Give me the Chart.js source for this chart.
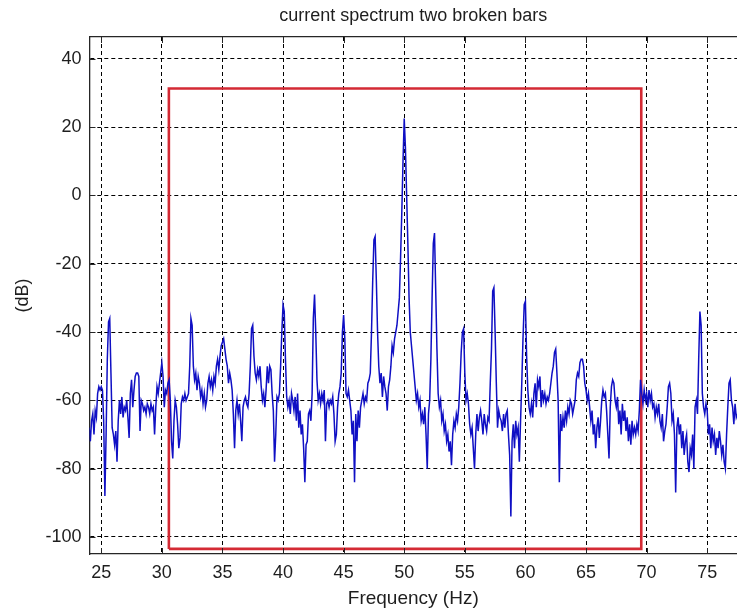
<!DOCTYPE html>
<html><head><meta charset="utf-8">
<script src="https://cdn.jsdelivr.net/npm/chart.js@4.4.1/dist/chart.umd.min.js"></script>
<style>html,body{margin:0;padding:0;background:#fff;overflow:hidden}#wrap{width:737px;height:613px;position:relative}</style>
</head><body><div id="wrap"><canvas id="c" width="737" height="613"></canvas></div>
<script>
const chartTitle = 'current spectrum two broken bars';
const xAxisTitle = 'Frequency (Hz)';
const yAxisTitle = '(dB)';
const xTicks = [25, 30, 35, 40, 45, 50, 55, 60, 65, 70, 75];
const yTicks = [-100, -80, -60, -40, -20, 0, 20, 40];

const freqHz = [
24,24.1,24.2,24.3,24.4,24.5,24.6,24.7,24.8,24.9,
25,25.1,25.2,25.3,25.4,25.5,25.6,25.7,25.8,25.9,
26,26.1,26.2,26.3,26.4,26.5,26.6,26.7,26.8,26.9,
27,27.1,27.2,27.3,27.4,27.5,27.6,27.7,27.8,27.9,
28,28.1,28.2,28.3,28.4,28.5,28.6,28.7,28.8,28.9,
29,29.1,29.2,29.3,29.4,29.5,29.6,29.7,29.8,29.9,
30,30.1,30.2,30.3,30.4,30.5,30.6,30.7,30.8,30.9,
31,31.1,31.2,31.3,31.4,31.5,31.6,31.7,31.8,31.9,
32,32.1,32.2,32.3,32.4,32.5,32.6,32.7,32.8,32.9,
33,33.1,33.2,33.3,33.4,33.5,33.6,33.7,33.8,33.9,
34,34.1,34.2,34.3,34.4,34.5,34.6,34.7,34.8,34.9,
35,35.1,35.2,35.3,35.4,35.5,35.6,35.7,35.8,35.9,
36,36.1,36.2,36.3,36.4,36.5,36.6,36.7,36.8,36.9,
37,37.1,37.2,37.3,37.4,37.5,37.6,37.7,37.8,37.9,
38,38.1,38.2,38.3,38.4,38.5,38.6,38.7,38.8,38.9,
39,39.1,39.2,39.3,39.4,39.5,39.6,39.7,39.8,39.9,
40,40.1,40.2,40.3,40.4,40.5,40.6,40.7,40.8,40.9,
41,41.1,41.2,41.3,41.4,41.5,41.6,41.7,41.8,41.9,
42,42.1,42.2,42.3,42.4,42.5,42.6,42.7,42.8,42.9,
43,43.1,43.2,43.3,43.4,43.5,43.6,43.7,43.8,43.9,
44,44.1,44.2,44.3,44.4,44.5,44.6,44.7,44.8,44.9,
45,45.1,45.2,45.3,45.4,45.5,45.6,45.7,45.8,45.9,
46,46.1,46.2,46.3,46.4,46.5,46.6,46.7,46.8,46.9,
47,47.1,47.2,47.3,47.4,47.5,47.6,47.7,47.8,47.9,
48,48.1,48.2,48.3,48.4,48.5,48.6,48.7,48.8,48.9,
49,49.1,49.2,49.3,49.4,49.5,49.6,49.7,49.8,49.9,
50,50.1,50.2,50.3,50.4,50.5,50.6,50.7,50.8,50.9,
51,51.1,51.2,51.3,51.4,51.5,51.6,51.7,51.8,51.9,
52,52.1,52.2,52.3,52.4,52.5,52.6,52.7,52.8,52.9,
53,53.1,53.2,53.3,53.4,53.5,53.6,53.7,53.8,53.9,
54,54.1,54.2,54.3,54.4,54.5,54.6,54.7,54.8,54.9,
55,55.1,55.2,55.3,55.4,55.5,55.6,55.7,55.8,55.9,
56,56.1,56.2,56.3,56.4,56.5,56.6,56.7,56.8,56.9,
57,57.1,57.2,57.3,57.4,57.5,57.6,57.7,57.8,57.9,
58,58.1,58.2,58.3,58.4,58.5,58.6,58.7,58.8,58.9,
59,59.1,59.2,59.3,59.4,59.5,59.6,59.7,59.8,59.9,
60,60.1,60.2,60.3,60.4,60.5,60.6,60.7,60.8,60.9,
61,61.1,61.2,61.3,61.4,61.5,61.6,61.7,61.8,61.9,
62,62.1,62.2,62.3,62.4,62.5,62.6,62.7,62.8,62.9,
63,63.1,63.2,63.3,63.4,63.5,63.6,63.7,63.8,63.9,
64,64.1,64.2,64.3,64.4,64.5,64.6,64.7,64.8,64.9,
65,65.1,65.2,65.3,65.4,65.5,65.6,65.7,65.8,65.9,
66,66.1,66.2,66.3,66.4,66.5,66.6,66.7,66.8,66.9,
67,67.1,67.2,67.3,67.4,67.5,67.6,67.7,67.8,67.9,
68,68.1,68.2,68.3,68.4,68.5,68.6,68.7,68.8,68.9,
69,69.1,69.2,69.3,69.4,69.5,69.6,69.7,69.8,69.9,
70,70.1,70.2,70.3,70.4,70.5,70.6,70.7,70.8,70.9,
71,71.1,71.2,71.3,71.4,71.5,71.6,71.7,71.8,71.9,
72,72.1,72.2,72.3,72.4,72.5,72.6,72.7,72.8,72.9,
73,73.1,73.2,73.3,73.4,73.5,73.6,73.7,73.8,73.9,
74,74.1,74.2,74.3,74.4,74.5,74.6,74.7,74.8,74.9,
75,75.1,75.2,75.3,75.4,75.5,75.6,75.7,75.8,75.9,
76,76.1,76.2,76.3,76.4,76.5,76.6,76.7,76.8,76.9,
77,77.1,77.2,77.3,77.4,77.5
];

const levelDb = [
-68,-72,-66,-64,-70,-63,-65,-58,-56,-57,
-56,-57,-66,-88,-70,-48,-37,-36,-52,-68,
-70,-73,-69,-78,-66,-60,-64,-59,-65,-62,
-63,-60,-65,-71,-58,-54,-62,-57,-53,-52,
-52,-53,-69,-60,-61,-63,-62,-64,-61,-62,
-64,-61,-63,-62,-70,-62,-56,-58,-55,-52,
-49,-53,-62,-57,-58,-55,-54,-60,-72,-77,
-66,-60,-62,-67,-74,-71,-61,-59,-60,-58,
-60,-59,-58,-50,-36,-38,-50,-54,-52,-57,
-53,-55,-59,-57,-61,-58,-62,-60,-55,-53,
-56,-54,-57,-53,-55,-50,-48,-51,-47,-44,
-43,-42,-45,-48,-50,-55,-52,-54,-57,-64,
-74,-63,-60,-64,-61,-66,-72,-62,-60,-59,
-61,-62,-58,-50,-39,-38,-47,-52,-54,-51,
-53,-50,-56,-60,-58,-62,-57,-50,-55,-50,
-51,-58,-63,-78,-70,-59,-60,-58,-50,-40,
-32,-34,-48,-59,-62,-60,-64,-58,-60,-63,
-59,-66,-58,-68,-63,-70,-67,-74,-84,-73,
-72,-64,-63,-66,-58,-36,-29,-40,-54,-60,
-58,-61,-58,-60,-57,-72,-61,-60,-62,-60,
-61,-59,-64,-72,-70,-62,-58,-56,-52,-40,
-35,-42,-58,-59,-57,-60,-63,-70,-66,-84,
-64,-72,-63,-68,-62,-60,-58,-61,-59,-60,
-55,-54,-52,-40,-25,-13,-12,-25,-40,-50,
-55,-52,-59,-53,-56,-58,-63,-56,-54,-50,
-44,-46,-42,-40,-38,-34,-30,-18,-5,10,
22.5,14,0,-14,-30,-40,-44,-48,-52,-56,
-60,-58,-62,-60,-66,-64,-67,-62,-70,-80,
-64,-60,-48,-30,-14,-11,-28,-45,-58,-62,
-60,-66,-64,-69,-67,-72,-70,-75,-72,-79,
-70,-66,-68,-64,-66,-62,-55,-46,-40,-39,
-52,-60,-58,-61,-67,-70,-68,-74,-80,-70,
-64,-69,-65,-63,-66,-70,-64,-67,-69,-65,
-66,-55,-45,-28,-27,-40,-55,-68,-63,-65,
-66,-69,-64,-68,-64,-63,-70,-76,-94,-72,
-67,-74,-66,-70,-68,-78,-66,-55,-42,-32,
-31,-47,-57,-62,-64,-61,-65,-58,-55,-62,
-54,-56,-53,-62,-57,-60,-58,-61,-59,-60,
-58,-55,-52,-50,-46,-45,-52,-60,-84,-64,
-69,-65,-68,-63,-66,-62,-64,-60,-61,-64,
-62,-60,-54,-52,-53,-49,-48,-48,-50,-55,
-57,-60,-58,-62,-66,-63,-70,-67,-74,-68,
-65,-71,-66,-60,-57,-59,-58,-63,-70,-77,
-62,-56,-54,-55,-60,-62,-59,-67,-63,-70,
-61,-66,-63,-69,-65,-72,-67,-73,-66,-70,
-68,-70,-67,-69,-63,-54,-58,-61,-57,-60,
-58,-62,-57,-60,-58,-62,-61,-65,-62,-64,
-61,-66,-68,-64,-72,-69,-67,-62,-56,-55,
-58,-66,-64,-70,-87,-68,-65,-70,-67,-74,
-69,-76,-72,-70,-78,-81,-74,-76,-70,-80,
-62,-60,-64,-48,-34,-38,-58,-62,-64,-61,
-63,-70,-67,-74,-68,-72,-70,-76,-71,-74,
-69,-72,-76,-73,-78,-80,-70,-62,-55,-54,
-60,-62,-67,-61,-65,-64
];

const boxFreqHz = [30.58, 30.58, 69.56, 69.56, 30.58];
const boxLevelDb = [-103.5, 31.3, 31.3, -103.5, -103.5];

const FONT = "'Liberation Sans', Arial, Helvetica, sans-serif";
const TXT = '#1e1e1e';

const spectrumPts = freqHz.map((f, i) => ({x: f, y: levelDb[i]}));
const boxPts = boxFreqHz.map((f, i) => ({x: f, y: boxLevelDb[i]}));

const inwardTicks = {
  id: 'inwardTicks',
  afterDraw(chart) {
    const {ctx, chartArea: a, scales} = chart;
    const len = 6;
    ctx.save();
    ctx.strokeStyle = '#262626';
    ctx.lineWidth = 1;
    ctx.beginPath();
    xTicks.forEach(v => {
      const px = Math.round(scales.x.getPixelForValue(v)) + 0.5;
      ctx.moveTo(px, a.bottom); ctx.lineTo(px, a.bottom - len);
      ctx.moveTo(px, a.top); ctx.lineTo(px, a.top + len);
    });
    yTicks.forEach(v => {
      const py = Math.round(scales.y.getPixelForValue(v)) + 0.5;
      ctx.moveTo(a.left, py); ctx.lineTo(a.left + len, py);
    });
    ctx.stroke();
    ctx.restore();
  }
};

new Chart(document.getElementById('c'), {
  type: 'line',
  data: {
    datasets: [
      {data: spectrumPts, borderColor: '#0f0fc4', borderWidth: 1.5, pointRadius: 0, tension: 0, fill: false},
      {data: boxPts, borderColor: '#d42a34', borderWidth: 2.6, pointRadius: 0, tension: 0, fill: false}
    ]
  },
  options: {
    responsive: false,
    animation: false,
    events: [],
    layout: {padding: 0},
    plugins: {legend: {display: false}, tooltip: {enabled: false}, title: {display: false}},
    scales: {
      x: {
        type: 'linear', position: 'bottom', min: 24.03, max: 77.46,
        afterBuildTicks: s => { s.ticks = xTicks.map(v => ({value: v})); },
        afterFit: s => { s.height = 59; },
        grid: {color: '#000', lineWidth: 1, drawTicks: false},
        border: {display: true, color: '#262626', width: 1.3, dash: [4, 3]},
        ticks: {color: TXT, font: {family: FONT, size: 18}, padding: 8, maxRotation: 0, autoSkip: false},
        title: {display: true, text: xAxisTitle, color: TXT, font: {family: FONT, size: 19}, padding: {top: 0, bottom: 3}}
      },
      x2: {
        type: 'linear', position: 'top', min: 24.03, max: 77.46,
        afterFit: s => { s.height = 37; },
        grid: {display: false, drawTicks: false},
        border: {display: true, color: '#262626', width: 1.3},
        ticks: {display: false},
        title: {display: true, text: chartTitle, color: TXT, font: {family: FONT, size: 18}, padding: {top: 5, bottom: 0}}
      },
      y: {
        type: 'linear', position: 'left', min: -105, max: 46.4,
        afterBuildTicks: s => { s.ticks = yTicks.map(v => ({value: v})); },
        afterFit: s => { s.width = 89.5; },
        grid: {color: '#000', lineWidth: 1, drawTicks: false},
        border: {display: true, color: '#262626', width: 1.3, dash: [4, 3]},
        ticks: {color: TXT, font: {family: FONT, size: 18}, padding: 8, autoSkip: false},
        title: {display: true, text: yAxisTitle, color: TXT, font: {family: FONT, size: 18}, padding: {top: 12, bottom: 0}}
      }
    }
  },
  plugins: [inwardTicks]
});
</script>
</body></html>
